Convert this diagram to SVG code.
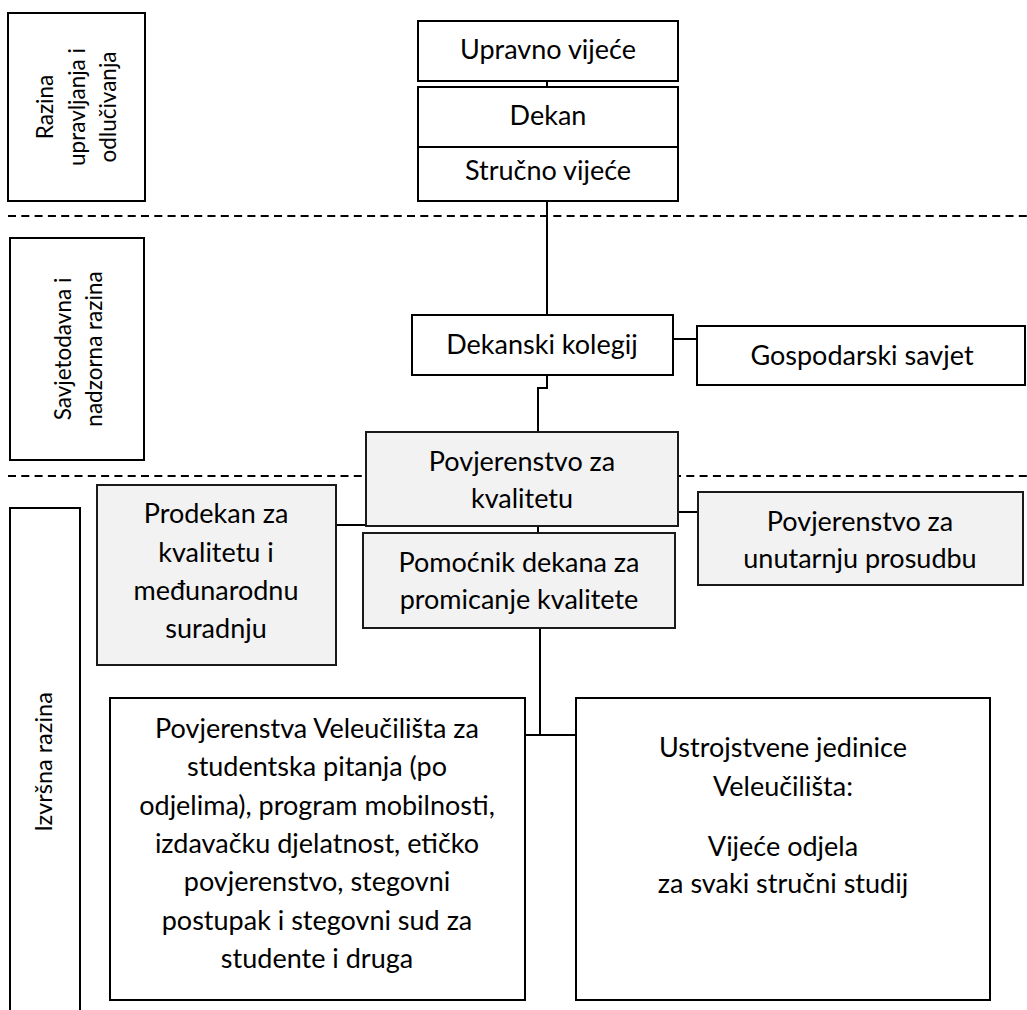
<svg xmlns="http://www.w3.org/2000/svg" width="1027" height="1010" viewBox="0 0 1027 1010">
<style>
.box{fill:#ffffff;stroke:#000;stroke-width:2}
.gbox{fill:#f2f2f2;stroke:#1a1a1a;stroke-width:2}
.t{font-family:Lato,"Open Sans","Liberation Sans",sans-serif;font-size:27px;fill:#000;text-anchor:middle}
.s{font-family:Lato,"Open Sans","Liberation Sans",sans-serif;font-size:22.5px;fill:#000;text-anchor:middle}
.dash{stroke:#000;stroke-width:2;stroke-dasharray:8 5.3;fill:none}
.c{stroke:#000;stroke-width:2;fill:none}
</style>
<rect width="1027" height="1010" fill="#fff"/>
<g id="separators">
<line class="dash" x1="8" y1="216" x2="1027" y2="216"/>
<line class="dash" x1="8" y1="476" x2="1027" y2="476"/>
</g>
<g id="connectors">
<line class="c" x1="547" y1="81" x2="547" y2="87"/>
<line class="c" x1="547" y1="201" x2="547" y2="315"/>
<polyline class="c" points="547,375 547,388 538,388 538,432"/>
<line class="c" x1="673" y1="339" x2="697" y2="339"/>
<line class="c" x1="336" y1="525" x2="366" y2="525"/>
<line class="c" x1="678" y1="512" x2="698" y2="512"/>
<line class="c" x1="538" y1="526" x2="538" y2="533"/>
<line class="c" x1="540" y1="628" x2="540" y2="735"/>
<line class="c" x1="525" y1="735" x2="576" y2="735"/>
</g>
<g id="level-upravljanje">
<rect class="box" x="8" y="13" width="137" height="188"/>
<text class="s" transform="rotate(-90 53 107)" x="53" y="107">Razina</text>
<text class="s" transform="rotate(-90 85 107)" x="85" y="107">upravljanja i</text>
<text class="s" transform="rotate(-90 116 107)" x="116" y="107">odlučivanja</text>
</g>
<g id="level-savjetodavna">
<rect class="box" x="10" y="238" width="134" height="222"/>
<text class="s" transform="rotate(-90 71 349)" x="71" y="349">Savjetodavna i</text>
<text class="s" transform="rotate(-90 102 349)" x="102" y="349">nadzorna razina</text>
</g>
<g id="level-izvrsna">
<rect class="box" x="10" y="508" width="70" height="520"/>
<text class="s" style="font-size:23.5px" transform="rotate(-90 52 762)" x="52" y="762">Izvršna razina</text>
</g>
<g id="upravno-vijece">
<rect class="box" x="418" y="21" width="260" height="60"/>
<text class="t" x="548" y="59">Upravno vijeće</text>
</g>
<g id="dekan">
<rect class="box" x="418" y="87" width="260" height="60"/>
<text class="t" x="548" y="125">Dekan</text>
</g>
<g id="strucno-vijece">
<rect class="box" x="418" y="147" width="260" height="54"/>
<text class="t" x="548" y="180">Stručno vijeće</text>
</g>
<g id="dekanski-kolegij">
<rect class="box" x="412" y="315" width="261" height="60"/>
<text class="t" x="542" y="354">Dekanski kolegij</text>
</g>
<g id="gospodarski-savjet">
<rect class="box" x="697" y="326" width="328" height="59"/>
<text class="t" x="862" y="365">Gospodarski savjet</text>
</g>
<g id="povjerenstvo-kvaliteta">
<rect class="gbox" x="366" y="432" width="312" height="94"/>
<text class="t" x="522" y="471">Povjerenstvo za</text>
<text class="t" x="522" y="508">kvalitetu</text>
</g>
<g id="prodekan">
<rect class="gbox" x="97" y="485" width="239" height="180"/>
<text class="t" x="216" y="523">Prodekan za</text>
<text class="t" x="216" y="562">kvalitetu i</text>
<text class="t" x="216" y="600">međunarodnu</text>
<text class="t" x="216" y="638">suradnju</text>
</g>
<g id="povjerenstvo-prosudba">
<rect class="gbox" x="698" y="492" width="325" height="93"/>
<text class="t" x="860" y="531">Povjerenstvo za</text>
<text class="t" x="860" y="568">unutarnju prosudbu</text>
</g>
<g id="pomocnik-dekana">
<rect class="gbox" x="363" y="533" width="312" height="95"/>
<text class="t" x="519" y="572">Pomoćnik dekana za</text>
<text class="t" x="519" y="609">promicanje kvalitete</text>
</g>
<g id="povjerenstva-veleucilista">
<rect class="box" x="110" y="698" width="415" height="302"/>
<text class="t" x="317" y="738">Povjerenstva Veleučilišta za</text>
<text class="t" x="317" y="776">studentska pitanja (po</text>
<text class="t" x="317" y="815">odjelima), program mobilnosti,</text>
<text class="t" x="317" y="853">izdavačku djelatnost, etičko</text>
<text class="t" x="317" y="891">povjerenstvo, stegovni</text>
<text class="t" x="317" y="930">postupak i stegovni sud za</text>
<text class="t" x="317" y="968">studente i druga</text>
</g>
<g id="ustrojstvene-jedinice">
<rect class="box" x="576" y="698" width="414" height="302"/>
<text class="t" x="783" y="757">Ustrojstvene jedinice</text>
<text class="t" x="783" y="796">Veleučilišta:</text>
<text class="t" x="783" y="856">Vijeće odjela</text>
<text class="t" x="783" y="893">za svaki stručni studij</text>
</g>
</svg>
